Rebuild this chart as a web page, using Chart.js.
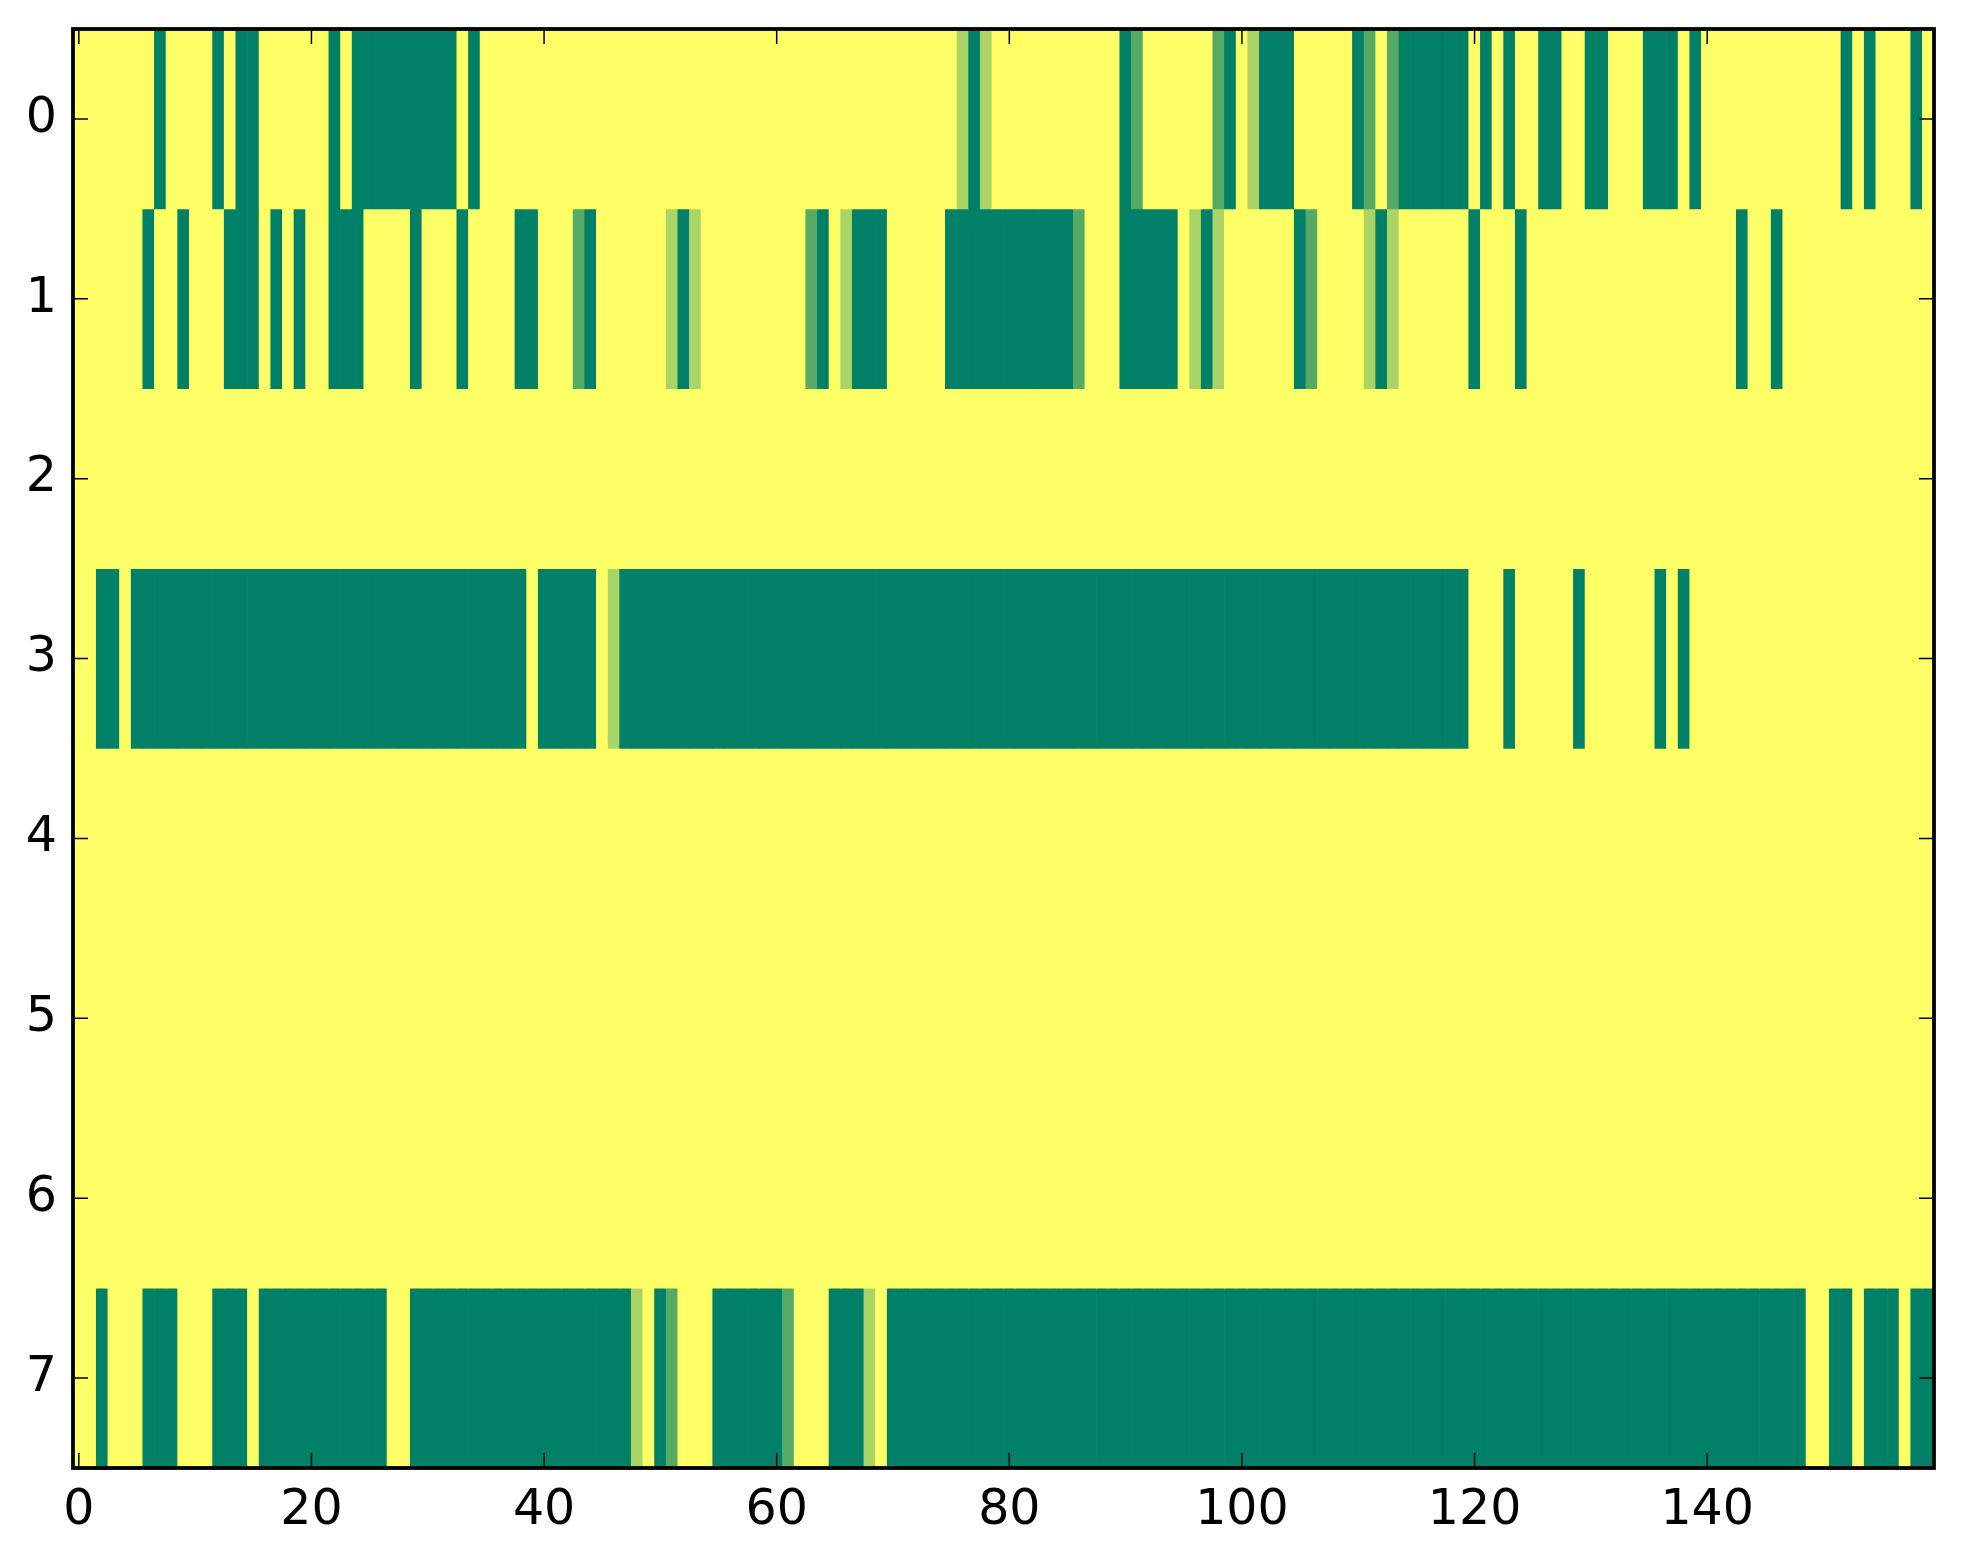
<!DOCTYPE html>
<html>
<head>
<meta charset="utf-8">
<script src="https://cdn.jsdelivr.net/npm/chart.js@4.4.0/dist/chart.umd.min.js"></script>
<style>
  html, body { margin: 0; padding: 0; background: #fff; }
  #wrap { width: 1963px; height: 1564px; }
</style>
</head>
<body>
<div id="wrap"><canvas id="heat"></canvas></div>
<script>
// rows (y) and tick labels
const rows = [0, 1, 2, 3, 4, 5, 6, 7];
const xTicks = [0, 20, 40, 60, 80, 100, 120, 140];

// cell values per row, 160 columns each (0 = green, 1 = yellow)
const row0 = [
  1,1,1,1,1,1,1,0,1,1, 1,1,0,1,0,0,1,1,1,1, 1,1,0,1,0,0,0,0,0,0, 0,0,0,1,0,1,1,1,1,1,
  1,1,1,1,1,1,1,1,1,1, 1,1,1,1,1,1,1,1,1,1, 1,1,1,1,1,1,1,1,1,1, 1,1,1,1,1,1,0.667,0,0.667,1,
  1,1,1,1,1,1,1,1,1,1, 0,0.333,1,1,1,1,1,1,0.333,0, 1,0.667,0,0,0,1,1,1,1,1, 0,0.333,1,0.333,0,0,0,0,0,0,
  1,0,1,0,1,1,0,0,1,1, 0,0,1,1,1,0,0,0,1,0, 1,1,1,1,1,1,1,1,1,1, 1,1,0,1,0,1,1,1,0,1
];
const row1 = [
  1,1,1,1,1,1,0,1,1,0, 1,1,1,0,0,0,1,0,1,0, 1,1,0,0,0,1,1,1,1,0, 1,1,1,0,1,1,1,1,0,0,
  1,1,1,0.333,0,1,1,1,1,1, 1,0.667,0,0.667,1,1,1,1,1,1, 1,1,1,0.333,0,1,0.667,0,0,0, 1,1,1,1,1,0,0,0,0,0,
  0,0,0,0,0,0,0.333,1,1,1, 0,0,0,0,0,1,0.667,0,0.667,1, 1,1,1,1,1,0,0.333,1,1,1, 1,0.667,0,0.667,1,1,1,1,1,1,
  0,1,1,1,0,1,1,1,1,1, 1,1,1,1,1,1,1,1,1,1, 1,1,1,0,1,1,0,1,1,1, 1,1,1,1,1,1,1,1,1,1
];
const row2 = [
  1,1,1,1,1,1,1,1,1,1, 1,1,1,1,1,1,1,1,1,1, 1,1,1,1,1,1,1,1,1,1, 1,1,1,1,1,1,1,1,1,1,
  1,1,1,1,1,1,1,1,1,1, 1,1,1,1,1,1,1,1,1,1, 1,1,1,1,1,1,1,1,1,1, 1,1,1,1,1,1,1,1,1,1,
  1,1,1,1,1,1,1,1,1,1, 1,1,1,1,1,1,1,1,1,1, 1,1,1,1,1,1,1,1,1,1, 1,1,1,1,1,1,1,1,1,1,
  1,1,1,1,1,1,1,1,1,1, 1,1,1,1,1,1,1,1,1,1, 1,1,1,1,1,1,1,1,1,1, 1,1,1,1,1,1,1,1,1,1
];
const row3 = [
  1,1,0,0,1,0,0,0,0,0, 0,0,0,0,0,0,0,0,0,0, 0,0,0,0,0,0,0,0,0,0, 0,0,0,0,0,0,0,0,0,1,
  0,0,0,0,0,1,0.667,0,0,0, 0,0,0,0,0,0,0,0,0,0, 0,0,0,0,0,0,0,0,0,0, 0,0,0,0,0,0,0,0,0,0,
  0,0,0,0,0,0,0,0,0,0, 0,0,0,0,0,0,0,0,0,0, 0,0,0,0,0,0,0,0,0,0, 0,0,0,0,0,0,0,0,0,0,
  1,1,1,0,1,1,1,1,1,0, 1,1,1,1,1,1,0,1,0,1, 1,1,1,1,1,1,1,1,1,1, 1,1,1,1,1,1,1,1,1,1
];
const row4 = row2.slice();
const row5 = row2.slice();
const row6 = row2.slice();
const row7 = [
  1,1,0,1,1,1,0,0,0,1, 1,1,0,0,0,1,0,0,0,0, 0,0,0,0,0,0,0,1,1,0, 0,0,0,0,0,0,0,0,0,0,
  0,0,0,0,0,0,0,0,0.667,1, 0,0.333,1,1,1,0,0,0,0,0, 0,0.333,1,1,1,0,0,0,0.667,1, 0,0,0,0,0,0,0,0,0,0,
  0,0,0,0,0,0,0,0,0,0, 0,0,0,0,0,0,0,0,0,0, 0,0,0,0,0,0,0,0,0,0, 0,0,0,0,0,0,0,0,0,0,
  0,0,0,0,0,0,0,0,0,0, 0,0,0,0,0,0,0,0,0,0, 0,0,0,0,0,0,0,0,0,1, 1,0,0,1,0,0,0,1,0,0
];

const grid = [row0, row1, row2, row3, row4, row5, row6, row7];

// matplotlib "summer" colormap
function summer(v) {
  const r = Math.round(255 * v);
  const g = Math.round(255 * (0.5 + v / 2));
  return `rgb(${r},${g},102)`;
}

const datasets = grid.map((vals, r) => ({
  data: vals.map((v, c) => ({ x: c, y: [rows[r] - 0.5, rows[r] + 0.5] })),
  backgroundColor: vals.map(summer),
  borderWidth: 0,
  barPercentage: 1,
  categoryPercentage: 1,
  grouped: false
}));

// frame and inward tick marks on all four sides
const frame = {
  id: "frame",
  afterDatasetsDraw(chart) {
    const { ctx, chartArea: a, scales: { x, y } } = chart;
    const len = 15;
    ctx.save();
    ctx.strokeStyle = "#000";
    ctx.lineWidth = 1.5;
    ctx.beginPath();
    xTicks.forEach(v => {
      const px = x.getPixelForValue(v);
      ctx.moveTo(px, a.bottom); ctx.lineTo(px, a.bottom - len);
      ctx.moveTo(px, a.top); ctx.lineTo(px, a.top + len);
    });
    rows.forEach(v => {
      const py = y.getPixelForValue(v);
      ctx.moveTo(a.left, py); ctx.lineTo(a.left + len, py);
      ctx.moveTo(a.right, py); ctx.lineTo(a.right - len, py);
    });
    ctx.stroke();
    ctx.lineWidth = 3.8;
    ctx.strokeRect(a.left, a.top, a.right - a.left, a.bottom - a.top);
    ctx.restore();
  }
};

const tickFont = { family: "DejaVu Sans", size: 49 };

new Chart(document.getElementById("heat"), {
  type: "bar",
  data: { datasets },
  options: {
    responsive: true,
    maintainAspectRatio: false,
    devicePixelRatio: 1,
    animation: false,
    layout: { padding: { top: 29, right: 29, left: 0, bottom: 0 } },
    plugins: { legend: { display: false }, tooltip: { enabled: false } },
    scales: {
      x: {
        type: "linear",
        offset: false,
        min: -0.5,
        max: 159.5,
        grid: { display: false, drawTicks: false, offset: false },
        border: { display: false },
        ticks: { font: tickFont, color: "#000", padding: 14, maxRotation: 0, autoSkip: false },
        afterBuildTicks: s => { s.ticks = xTicks.map(v => ({ value: v })); },
        afterFit: s => { s.height = 96; s.paddingLeft = 0; s.paddingRight = 0; }
      },
      y: {
        type: "linear",
        reverse: true,
        min: -0.5,
        max: 7.5,
        grid: { display: false, drawTicks: false },
        border: { display: false },
        ticks: { font: tickFont, color: "#000", padding: 16, autoSkip: false },
        afterBuildTicks: s => { s.ticks = rows.map(v => ({ value: v })); },
        afterFit: s => { s.width = 73; s.paddingTop = 0; s.paddingBottom = 0; }
      }
    }
  },
  plugins: [frame]
});
</script>
</body>
</html>
